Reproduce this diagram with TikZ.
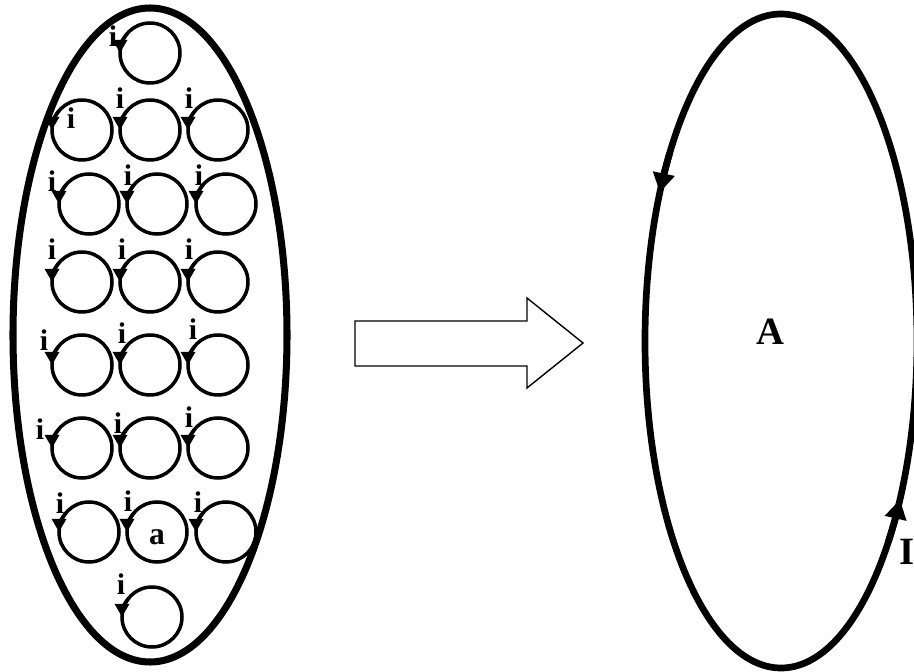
\documentclass[tikz,border=0pt]{standalone}
\usepackage{fontspec}
\setmainfont{Liberation Serif}
\usetikzlibrary{arrows.meta,calc}
\tikzset{
  ring/.style={circle,draw,line width=2pt,minimum size=1.2cm,inner sep=0pt,outer sep=0pt},
  ringarrow/.style={line width=2pt,-{Triangle[length=7.5pt,width=8pt]}},
  lbl/.style={inner sep=0pt,font=\fontsize{17}{19}\selectfont\bfseries},
  biglbl/.style={inner sep=0pt,font=\fontsize{22}{24}\selectfont\bfseries},
  shell/.style={line width=4pt},
  loopline/.style={line width=3.8pt},
  looparrow/.style={line width=3.8pt,-{Triangle[length=11pt,width=12pt]}},
  blockarrow/.style={draw,line width=0.8pt,fill=white,line join=miter}
}
\begin{document}
\begin{tikzpicture}[x=0.02cm,y=0.02cm]
\useasboundingbox (0,0) rectangle (914,-672);
% left shell
\coordinate (lc) at (150,-335);
\draw[shell] (lc) ellipse[x radius=137,y radius=327];
% small current loops
\foreach \n/\x/\y in {0/150/53,
  1/82/130, 2/150/130, 3/218/130,
  4/89/204, 5/157/204, 6/226/204,
  7/82/282, 8/150/282, 9/218/282,
  10/82/365, 11/150/365, 12/218/365,
  13/82/448, 14/150/448, 15/218/448,
  16/89/532, 17/157/532, 18/226/532,
  19/152/617}{
  \node[ring] (c\n) at (\x,-\y) {};
  \draw[ringarrow] (c\n.140) arc[start angle=140,end angle=180,radius=30];
}
% labels i
\foreach \n/\x/\y in {0/113/36,
  1/71/118, 2/120/98, 3/189/98,
  4/52/181, 5/128/175, 6/199/175,
  7/52/249, 8/122/249, 9/189/249,
  10/44/340, 11/122/333, 12/193/329,
  13/40/429, 14/118/423, 15/189/417,
  16/60/503, 17/128/501, 18/198/502,
  19/121/584}{
  \node[lbl] (i\n) at (\x,-\y) {i};
}
\node[lbl,font=\fontsize{18}{20}\selectfont\bfseries] (a) at (157,-537) {a};
% block arrow
\draw[blockarrow] (355,-321) -- (527,-321) -- (527,-298) -- (583,-343) -- (527,-388) -- (527,-366) -- (355,-366) -- cycle;
% right loop
\coordinate (rc) at (781,-341);
\draw[loopline] (rc) ellipse[x radius=136,y radius=327];
\draw[looparrow] ($(rc)+(145:136 and 327)$) arc[start angle=145,end angle=153,x radius=136,y radius=327];
\draw[looparrow] ($(rc)+(322:136 and 327)$) arc[start angle=322,end angle=331,x radius=136,y radius=327];
\node[biglbl] (A) at (770,-332) {A};
\node[biglbl,anchor=west] (I) at (899,-552) {I};
\end{tikzpicture}
\end{document}
